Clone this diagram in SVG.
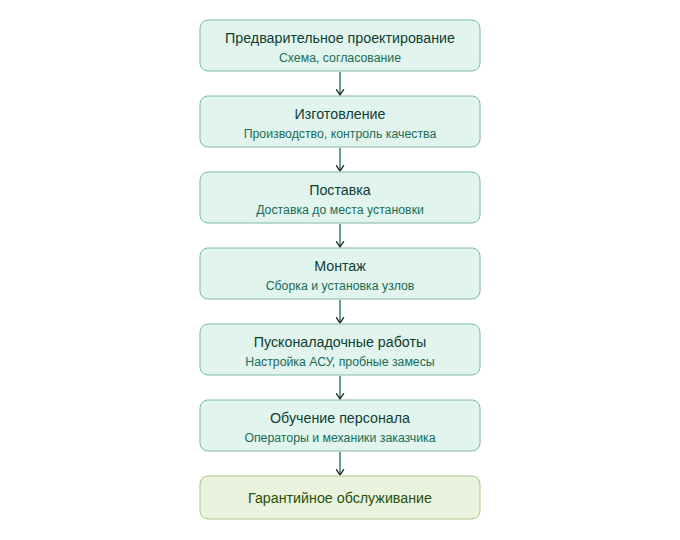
<svg xmlns="http://www.w3.org/2000/svg" width="680" height="540" viewBox="0 0 680 540">
<style>
.box{fill:#E1F5EE;stroke:#7fb8a4;stroke-width:1}
.boxg{fill:#EAF3DE;stroke:#a9c68a;stroke-width:1}
.t{font-family:"Liberation Sans",Arial,sans-serif;font-size:14.25px;fill:#0F3D33;text-anchor:middle;dominant-baseline:central}
.s{font-family:"Liberation Sans",Arial,sans-serif;font-size:12.3px;fill:#1a6b58;text-anchor:middle;dominant-baseline:central}
.tg{font-family:"Liberation Sans",Arial,sans-serif;font-size:14.25px;fill:#27500A;text-anchor:middle;dominant-baseline:central}
.c{stroke:#2f7f6c;stroke-width:1.5;fill:none;marker-end:url(#arr)}
</style>
<defs>
<marker id="arr" viewBox="0 0 10 10" refX="8" refY="5" markerWidth="6" markerHeight="6" orient="auto-start-reverse">
<path d="M2 1L8 5L2 9" fill="none" stroke="#222" stroke-width="1.5" stroke-linecap="round" stroke-linejoin="round"/>
</marker>
</defs>
<g id="connectors">
<line class="c" x1="340" y1="72" x2="340" y2="95"/>
<line class="c" x1="340" y1="148" x2="340" y2="171"/>
<line class="c" x1="340" y1="224" x2="340" y2="247"/>
<line class="c" x1="340" y1="300" x2="340" y2="323"/>
<line class="c" x1="340" y1="376" x2="340" y2="399"/>
<line class="c" x1="340" y1="452" x2="340" y2="475"/>
</g>
<g id="n1"><rect class="box" x="200" y="20" width="280" height="51" rx="8"/><text class="t" x="340" y="38">Предварительное проектирование</text><text class="s" x="340" y="57.5">Схема, согласование</text></g>
<g id="n2"><rect class="box" x="200" y="96" width="280" height="51" rx="8"/><text class="t" x="340" y="114">Изготовление</text><text class="s" x="340" y="133.5">Производство, контроль качества</text></g>
<g id="n3"><rect class="box" x="200" y="172" width="280" height="51" rx="8"/><text class="t" x="340" y="190">Поставка</text><text class="s" x="340" y="209.5">Доставка до места установки</text></g>
<g id="n4"><rect class="box" x="200" y="248" width="280" height="51" rx="8"/><text class="t" x="340" y="266">Монтаж</text><text class="s" x="340" y="285.5">Сборка и установка узлов</text></g>
<g id="n5"><rect class="box" x="200" y="324" width="280" height="51" rx="8"/><text class="t" x="340" y="342">Пусконаладочные работы</text><text class="s" x="340" y="361.5">Настройка АСУ, пробные замесы</text></g>
<g id="n6"><rect class="box" x="200" y="400" width="280" height="51" rx="8"/><text class="t" x="340" y="418">Обучение персонала</text><text class="s" x="340" y="437.5">Операторы и механики заказчика</text></g>
<g id="n7"><rect class="boxg" x="200" y="476" width="280" height="43" rx="8"/><text class="tg" x="340" y="497.5">Гарантийное обслуживание</text></g>
</svg>
